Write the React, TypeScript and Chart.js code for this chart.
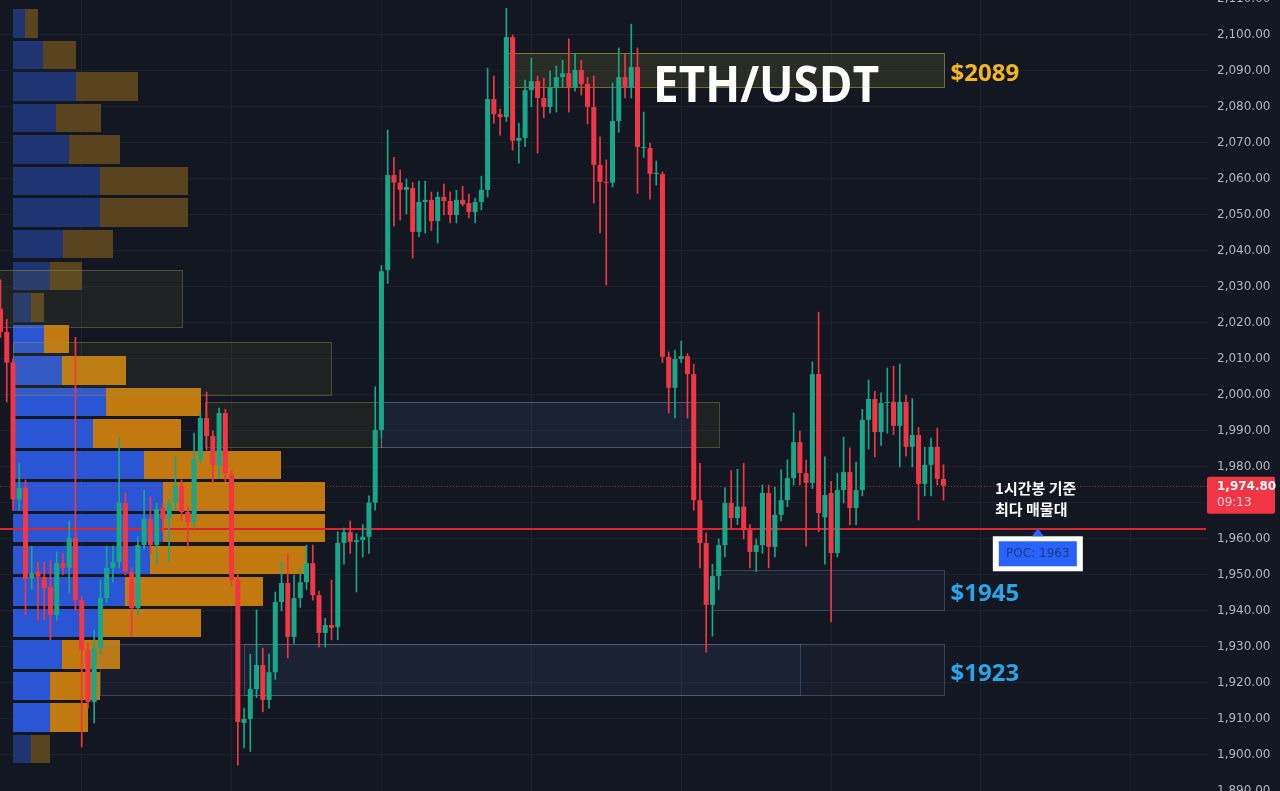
import React, { useEffect, useRef } from 'react';
import { Chart, registerables } from 'chart.js';

Chart.register(...registerables);

// ---------- candle data (1h ETH/USDT) ----------
const opens = [
  2024, 2017.5, 2009, 1971, 1974.2, 1949, 1951, 1949.4, 1946.7, 1938.9,
  1953.3, 1952, 1960.3, 1943, 1929.2, 1914.7, 1929.7, 1943.6, 1952, 1953.6,
  1970.1, 1950.8, 1940.8, 1958.3, 1965.6, 1958.3, 1968.6, 1965.6, 1970, 1974.7,
  1967.5, 1964.7, 1982.2, 1993.6, 1988.6, 1980.3, 1995, 1978, 1948.6, 1908.9,
  1910, 1918.3, 1925, 1915.3, 1923, 1942.5, 1947.8, 1932.8, 1943.6, 1948,
  1953.3, 1944.4, 1933.9, 1936.1, 1935.5, 1958.9, 1961.9, 1959.2, 1959.7, 1960.6,
  1970.1, 1990.3, 2034.7, 2061.1, 2059, 2057, 2057.5, 2045.3, 2053.6, 2054.2,
  2048.3, 2055, 2053.9, 2050, 2054.2, 2053.3, 2050.8, 2053.6, 2057, 2082.2,
  2078, 2077.2, 2099.4, 2070.6, 2071.4, 2084.7, 2087.2, 2082.5, 2080, 2085.3,
  2088.3, 2089.4, 2085.5, 2090.3, 2086.4, 2080, 2063.9, 2059.2, 2059, 2076.1,
  2088.3, 2085.5, 2091.1, 2068.6, 2068.6, 2061.4, 2061.4, 2010.6, 2002, 2010,
  2010.8, 2005.8, 1970.8, 1958.9, 1941.7, 1949.7, 1958.3, 1970, 1965.8, 1969,
  1962.5, 1956.4, 1958.3, 1972.8, 1957.8, 1966.7, 1970.8, 1976.9, 1986.9, 1978.3,
  1975.6, 2005.8, 1966, 1972.8, 1956.1, 1973.6, 1978.6, 1968.6, 1973.6, 1993.1,
  1998.9, 1989.7, 1997.8, 1998.1, 1991.4, 1998.1, 1985.6, 1988.9, 1975.3, 1980.6,
  1985.6, 1976.7,
];
const highs = [
  2032, 2021, 2010, 1981, 1976.4, 1958, 1953.5, 1953.6, 1954, 1956.4,
  1956, 1965, 2016, 1944, 1931, 1934.7, 1948.6, 1958, 1958, 1988,
  1972.8, 1952, 1960.6, 1973.6, 1971.7, 1970, 1970, 1971, 1982.8, 1976.4,
  1969, 1989.4, 1995, 2000.8, 1990, 1996.4, 1996, 1979, 1950, 1913,
  1928, 1940.3, 1929.7, 1928, 1945.3, 1953.6, 1956, 1950, 1952, 1958.3,
  1958.3, 1945.5, 1938, 1948.6, 1962, 1963, 1965, 1961.5, 1964, 1972,
  2002.3, 2036, 2073.6, 2066, 2062.5, 2060, 2059, 2059.4, 2059.4, 2056.4,
  2056.4, 2058.6, 2056.4, 2056.9, 2058, 2055.8, 2054.7, 2060.8, 2090.8, 2088.6,
  2079.4, 2107.4, 2100, 2075.5, 2087.5, 2093.6, 2088.6, 2088, 2090, 2091.4,
  2093, 2098.9, 2094.7, 2093, 2088.3, 2088.6, 2071.7, 2065.3, 2086.7, 2096.4,
  2094.7, 2103, 2096.4, 2078.6, 2070, 2065, 2062, 2012, 2012.5, 2015,
  2011.5, 2008.6, 1981, 1961.7, 1953, 1960, 1974.2, 1979, 1979.4, 1981,
  1964, 1960, 1975, 1975, 1974.4, 1979.2, 1982, 1995, 1990, 1981.9,
  2009.2, 2023, 1982.8, 1976, 1978.3, 1988.3, 1985.3, 1981.4, 1996, 2004.2,
  2001, 2000.6, 2007.5, 2008, 2008.6, 2000, 1999, 1991, 1985.5, 1988,
  1990.8, 1980.6,
];
const lows = [
  2016, 1998, 1968, 1968, 1938.9, 1946, 1937.5, 1937.5, 1932, 1937.5,
  1950, 1945, 1940, 1902.2, 1913, 1908.9, 1928, 1942.5, 1948, 1952,
  1950, 1932.8, 1939, 1957, 1956, 1953, 1962, 1953.6, 1968, 1965,
  1957.8, 1963, 1981, 1984.7, 1975.6, 1977, 1976, 1947, 1897.2, 1902,
  1901, 1916, 1912, 1913, 1921, 1940, 1927, 1931, 1941, 1946,
  1943, 1930, 1930, 1932, 1932, 1953, 1956, 1945.3, 1955, 1956,
  1968, 1988, 2031, 2046.9, 2048.6, 2050.3, 2038, 2044, 2045, 2045.6,
  2042.2, 2050, 2047.8, 2047.8, 2052.5, 2049.2, 2047.8, 2051.4, 2055, 2075.5,
  2072.2, 2076, 2068, 2064.4, 2069, 2080, 2067.2, 2077, 2078.3, 2078.6,
  2085.6, 2078.6, 2084.4, 2083.3, 2075.3, 2053.3, 2045, 2030.6, 2057.8, 2073,
  2082.5, 2082.5, 2056, 2066, 2054.4, 2058.3, 2009, 1995, 1993.6, 2009,
  1993.6, 1968, 1952, 1928.6, 1933, 1946, 1955, 1963, 1964, 1960,
  1952, 1951, 1956, 1952, 1955, 1965, 1969, 1975, 1975, 1958,
  1974, 1962, 1953, 1937, 1955, 1970, 1964, 1964, 1972, 1985,
  1982.8, 1986, 1989.4, 1989, 1980, 1983, 1980, 1965.3, 1972, 1972,
  1975, 1970.8,
];
const closes = [
  2017.5, 2009, 1971, 1974.2, 1948.9, 1950.5, 1949.5, 1946.4, 1938.9, 1953.3,
  1952, 1960.3, 1943, 1929.2, 1914.7, 1929.7, 1943.6, 1952, 1953.6, 1970.1,
  1951, 1940.8, 1958.3, 1965.6, 1958.3, 1968.3, 1965.6, 1970, 1974.7, 1967.5,
  1964.7, 1982.2, 1993.6, 1988.6, 1980.6, 1995, 1978.3, 1948.6, 1909.2, 1910,
  1918.3, 1925, 1915.3, 1923, 1942.5, 1947.8, 1932.8, 1943.6, 1948, 1953.3,
  1944.4, 1933.9, 1936.1, 1935.3, 1958.9, 1961.9, 1959.2, 1959.7, 1960.6, 1970.1,
  1990.3, 2034.4, 2061.1, 2059, 2057, 2057.8, 2045.3, 2053.6, 2054.2, 2048.3,
  2055, 2053.9, 2050, 2054.2, 2053, 2050.8, 2053.6, 2057, 2082.2, 2078,
  2077.2, 2099.4, 2070.6, 2071.4, 2084.7, 2087.2, 2082.5, 2080, 2085.3, 2088.3,
  2089.4, 2085.5, 2090.3, 2086.4, 2080, 2063.9, 2059.2, 2058.9, 2076.1, 2088.3,
  2085.5, 2091.1, 2068.9, 2068.9, 2061.4, 2061.7, 2010.6, 2002, 2010, 2010.8,
  2005.8, 1970.8, 1958.9, 1941.7, 1949.7, 1958.3, 1970, 1965.8, 1969, 1962.5,
  1956.4, 1958.3, 1972.8, 1957.8, 1966.7, 1970.8, 1976.9, 1986.9, 1978.3, 1975.6,
  2005.8, 1967.2, 1972.2, 1956.1, 1973.6, 1978.6, 1968.6, 1973.6, 1993.1, 1998.9,
  1989.7, 1997.8, 1998.1, 1991.4, 1998.1, 1985.6, 1988.9, 1975.3, 1980.6, 1985.6,
  1976.7, 1974.8,
];

// ---------- volume profile ----------
const profilePrice = [
  2103.24, 2094.48, 2085.71, 2076.95, 2068.18, 2059.42, 2050.65, 2041.89, 2033.12, 2024.36,
  2015.59, 2006.83, 1998.06, 1989.3, 1980.53, 1971.77, 1963.0, 1954.24, 1945.47, 1936.71,
  1927.94, 1919.18, 1910.41, 1901.65,
];
const profileBuy = [12, 30, 63, 43, 56, 87, 87, 50, 37, 18, 31, 49, 93, 80, 131, 150, 150, 137, 112, 90, 49, 37, 37, 18];
const profileSell = [13, 33, 62, 45, 51, 88, 88, 50, 32, 13, 25, 64, 95, 88, 137, 162, 162, 157, 138, 98, 58, 50, 38, 19];
const profileInVA = [0, 0, 0, 0, 0, 0, 0, 0, 0, 0, 1, 1, 1, 1, 1, 1, 1, 1, 1, 1, 1, 1, 1, 0];

// ---------- zones ----------
const zoneStart = [81, -2, 2, 32.75, 111, 61, 114, 16, 39];
const zoneEnd = [151, 29, 53, 61, 115, 111, 151, 151, 128];
const zoneHigh = [2095, 2034.7, 2014.8, 1998.1, 1998.1, 1998.1, 1951.25, 1930.7, 1930.7];
const zoneLow = [2085.6, 2019, 2000, 1985.5, 1985.5, 1985.5, 1940.3, 1916.7, 1916.7];
const zoneKind = ['gold', 'olive', 'olive', 'olive', 'olive', 'blue', 'slate', 'slate', 'inner'];
const zoneLabel = ['$2089', '', '', '', '', '', '$1945', '$1923', ''];

// ---------- axis ----------
const priceTicks = [
  1890, 1900, 1910, 1920, 1930, 1940, 1950, 1960, 1970, 1980, 1990, 2000,
  2010, 2020, 2030, 2040, 2050, 2060, 2070, 2080, 2090, 2100, 2110,
];
const gridIdx = [13, 37, 61, 85, 109, 133, 157, 181];

const pocPrice = 1962.7;
const pocText = 'POC: 1963';
const lastClose = 1974.8;
const lastTime = '09:13';
const titleText = 'ETH/USDT';
const noteLines = ['1시간봉 기준', '최다 매물대'];

// ---------- styles ----------
const BG = '#131722';
const GRID = '#1d212c';
const UP = '#16a889';
const DOWN = '#f23645';
const ZONE_STYLE: Record<string, { fill: string; stroke: string }> = {
  gold: { fill: 'rgba(190,175,60,0.13)', stroke: 'rgba(200,180,70,0.55)' },
  olive: { fill: 'rgba(160,150,60,0.09)', stroke: 'rgba(150,140,70,0.45)' },
  blue: { fill: 'rgba(70,110,170,0.12)', stroke: 'rgba(140,160,195,0.45)' },
  slate: { fill: 'rgba(90,110,150,0.07)', stroke: 'rgba(120,135,160,0.38)' },
  inner: { fill: 'rgba(70,110,170,0.07)', stroke: 'rgba(140,160,195,0.3)' },
};
const ROW_HALF = 3.95;

const fmtPrice = (v: number) => {
  const [a, b] = v.toFixed(2).split('.');
  return a.replace(/\B(?=(\d{3})+(?!\d))/g, ',') + '.' + b;
};

const overlay = {
  id: 'overlay',
  beforeDatasetsDraw(chart: any) {
    const { ctx, chartArea: ca, scales } = chart;
    const xs = scales.x, ys = scales.y, xv = scales.xv;
    ctx.save();
    ctx.beginPath();
    ctx.rect(ca.left, ca.top, ca.right - ca.left, ca.bottom - ca.top);
    ctx.clip();

    // volume profile
    profilePrice.forEach((p, k) => {
      const yt = Math.round(ys.getPixelForValue(p + ROW_HALF));
      const yb = Math.round(ys.getPixelForValue(p - ROW_HALF));
      const x0 = Math.round(xv.getPixelForValue(0));
      const x1 = Math.round(xv.getPixelForValue(profileBuy[k]));
      const x2 = Math.round(xv.getPixelForValue(profileBuy[k] + profileSell[k]));
      const va = profileInVA[k] === 1;
      ctx.fillStyle = va ? '#2a55d4' : '#1f3472';
      ctx.fillRect(x0, yt, x1 - x0, yb - yt);
      ctx.fillStyle = va ? '#c27a10' : '#5a4420';
      ctx.fillRect(x1, yt, x2 - x1, yb - yt);
    });

    // zones
    zoneKind.forEach((kind, z) => {
      const st = ZONE_STYLE[kind];
      const xa = Math.round(xs.getPixelForValue(zoneStart[z]));
      const xb = Math.round(xs.getPixelForValue(zoneEnd[z]));
      const ya = Math.round(ys.getPixelForValue(zoneHigh[z]));
      const yb = Math.round(ys.getPixelForValue(zoneLow[z]));
      ctx.fillStyle = st.fill;
      ctx.fillRect(xa, ya, xb - xa, yb - ya);
      ctx.strokeStyle = st.stroke;
      ctx.lineWidth = 1;
      ctx.strokeRect(xa + 0.5, ya + 0.5, xb - xa, yb - ya);
    });

    // last price dotted line
    const yl = Math.round(ys.getPixelForValue(lastClose)) + 0.5;
    ctx.setLineDash([1, 2]);
    ctx.strokeStyle = 'rgba(242,54,69,0.6)';
    ctx.lineWidth = 1;
    ctx.beginPath();
    ctx.moveTo(ca.left, yl);
    ctx.lineTo(ca.right, yl);
    ctx.stroke();
    ctx.setLineDash([]);

    // POC line
    const yp = Math.round(ys.getPixelForValue(pocPrice));
    ctx.strokeStyle = '#e0232b';
    ctx.lineWidth = 2;
    ctx.beginPath();
    ctx.moveTo(ca.left, yp);
    ctx.lineTo(ca.right - 2, yp);
    ctx.stroke();
    ctx.restore();
  },
  afterDatasetsDraw(chart: any) {
    const { ctx, scales } = chart;
    const xs = scales.x, ys = scales.y;
    ctx.save();

    // title
    ctx.fillStyle = '#ffffff';
    ctx.font = 'bold 50px "Open Sans", "Noto Sans", sans-serif';
    ctx.textBaseline = 'alphabetic';
    ctx.textAlign = 'left';
    ctx.fillText(titleText, xs.getPixelForValue(104.5), ys.getPixelForValue(2081.5), 226);

    // zone labels
    zoneLabel.forEach((lab, z) => {
      if (!lab) return;
      const xb = xs.getPixelForValue(zoneEnd[z]) + 7;
      const yc = (ys.getPixelForValue(zoneHigh[z]) + ys.getPixelForValue(zoneLow[z])) / 2;
      ctx.font = 'bold 24px "Open Sans", "Noto Sans", sans-serif';
      ctx.fillStyle = z === 0 ? '#f5b523' : '#27a5e8';
      ctx.fillText(lab, xb, yc + 11, 69);
    });

    // note
    const nx = xs.getPixelForValue(159.25);
    ctx.fillStyle = '#ffffff';
    ctx.font = 'bold 15px "Noto Sans CJK KR", sans-serif';
    ctx.textBaseline = 'middle';
    ctx.fillText(noteLines[0], nx, ys.getPixelForValue(1974.0));
    ctx.fillText(noteLines[1], nx, ys.getPixelForValue(1968.3));

    // POC label
    const yp = ys.getPixelForValue(pocPrice);
    const cx = xs.getPixelForValue(166.1);
    ctx.fillStyle = '#ffffff';
    ctx.fillRect(cx - 45, yp + 7, 90, 35);
    ctx.fillStyle = '#2962ff';
    ctx.fillRect(cx - 39, yp + 12, 78, 25);
    ctx.beginPath();
    ctx.moveTo(cx, yp - 1);
    ctx.lineTo(cx - 6, yp + 7);
    ctx.lineTo(cx + 6, yp + 7);
    ctx.closePath();
    ctx.fill();
    ctx.fillStyle = '#173a8c';
    ctx.font = '12px "DejaVu Sans", sans-serif';
    ctx.textAlign = 'center';
    ctx.fillText(pocText, cx, yp + 25, 66);
    ctx.restore();
  },
  afterDraw(chart: any) {
    const { ctx, chartArea: ca, scales } = chart;
    const ys = scales.y;
    const yl = ys.getPixelForValue(lastClose);
    ctx.save();
    ctx.fillStyle = DOWN;
    const x0 = ca.right - 1;
    ctx.beginPath();
    (ctx as any).roundRect(x0, yl - 9, 68, 37, 2);
    ctx.fill();
    ctx.textAlign = 'left';
    ctx.textBaseline = 'middle';
    ctx.fillStyle = '#ffffff';
    ctx.font = 'bold 12px "DejaVu Sans", sans-serif';
    ctx.fillText(fmtPrice(lastClose), ca.right + 9, yl + 1);
    ctx.fillStyle = 'rgba(255,225,228,0.9)';
    ctx.font = '12px "DejaVu Sans", sans-serif';
    ctx.fillText(lastTime, ca.right + 9, yl + 17);
    ctx.restore();
  },
};

export default function App() {
  const ref = useRef<HTMLCanvasElement | null>(null);
  useEffect(() => {
    const colors = closes.map((c, i) => (c >= opens[i] ? UP : DOWN));
    const chart = new Chart(ref.current as HTMLCanvasElement, {
      type: 'bar',
      data: {
        datasets: [
          {
            label: 'body',
            data: opens.map((o, i) => ({ x: i, y: [o, closes[i]] })) as any,
            backgroundColor: colors,
            borderWidth: 0,
            barPercentage: 0.8,
            categoryPercentage: 1,
            grouped: false,
            minBarLength: 1,
            xAxisID: 'x',
            yAxisID: 'y',
          } as any,
          {
            label: 'wick',
            data: lows.map((l, i) => ({ x: i, y: [l, highs[i]] })) as any,
            backgroundColor: colors,
            borderWidth: 0,
            barThickness: 1,
            grouped: false,
            xAxisID: 'x',
            yAxisID: 'y',
          } as any,
        ],
      },
      options: {
        responsive: true,
        maintainAspectRatio: false,
        animation: false,
        devicePixelRatio: 1,
        events: [],
        layout: { padding: 0, autoPadding: false } as any,
        plugins: { legend: { display: false }, tooltip: { enabled: false } },
        scales: {
          x: {
            type: 'linear',
            min: -0.08,
            max: 193.35,
            offset: false,
            grid: { color: GRID, offset: false, drawTicks: false },
            border: { display: false },
            ticks: { display: false },
            afterBuildTicks: (s: any) => {
              s.ticks = gridIdx.map((v) => ({ value: v }));
            },
          } as any,
          xv: {
            type: 'linear',
            axis: 'x',
            display: false,
            offset: false,
            grid: { offset: false },
            min: -13,
            max: 1195,
          } as any,
          y: {
            type: 'linear',
            position: 'right',
            min: 1890,
            max: 2109.72,
            beginAtZero: false,
            grid: { color: GRID, drawTicks: false },
            border: { display: false },
            ticks: {
              color: '#b2b5be',
              padding: 9,
              font: { family: '"DejaVu Sans", sans-serif', size: 12 },
              callback: (v: any) => fmtPrice(Number(v)),
            },
            afterBuildTicks: (s: any) => {
              s.ticks = priceTicks.map((v) => ({ value: v }));
            },
            afterFit: (s: any) => {
              s.width = 72;
              s.paddingTop = 0;
              s.paddingBottom = 0;
            },
          } as any,
        },
      },
      plugins: [overlay],
    } as any);
    return () => chart.destroy();
  }, []);
  return (
    <div style={{ position: 'fixed', left: 0, top: 0, width: 1280, height: 791, background: BG }}>
      <canvas ref={ref} />
    </div>
  );
}
